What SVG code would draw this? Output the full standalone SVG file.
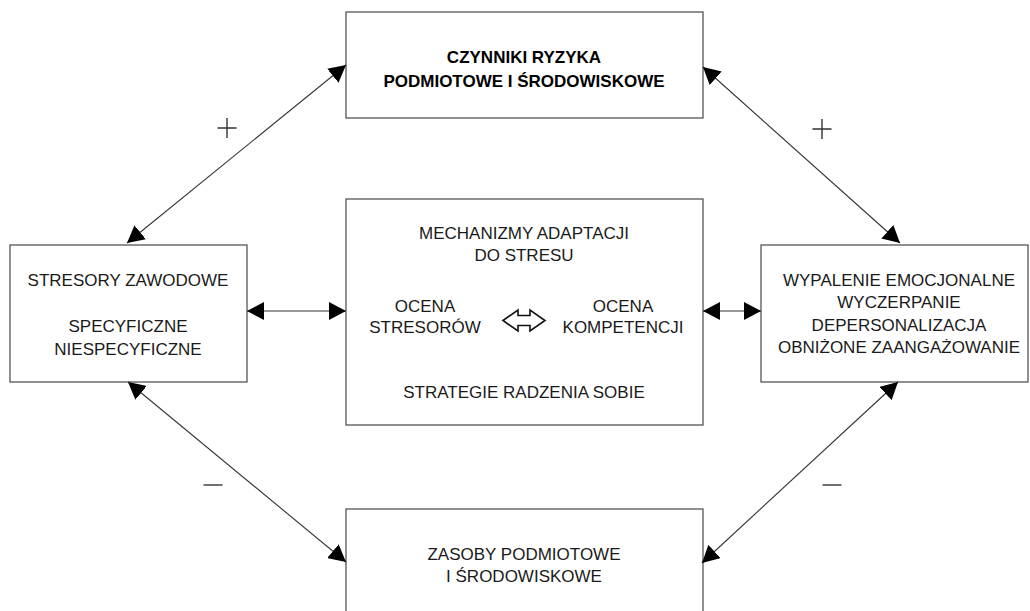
<svg xmlns="http://www.w3.org/2000/svg" width="1030" height="611" viewBox="0 0 1030 611">
  <style>
    .box { fill: #ffffff; stroke: #555555; stroke-width: 1.3; }
    .t { font-family: "Liberation Sans", Arial, sans-serif; font-size: 17px; fill: #1a1a1a; text-anchor: middle; }
    .b { font-weight: bold; fill: #000000; }
    .conn { stroke: #333333; stroke-width: 1.1; fill: none; marker-start: url(#ah); marker-end: url(#ah); }
    .sign { stroke: #333333; stroke-width: 1.4; fill: none; }
  </style>
  <defs>
    <marker id="ah" viewBox="0 0 17 18" refX="17" refY="9" markerWidth="17" markerHeight="18" markerUnits="userSpaceOnUse" orient="auto-start-reverse">
      <path d="M0,0 L17,9 L0,18 z" fill="#000000"/>
    </marker>
  </defs>
  <rect width="1030" height="611" fill="#ffffff"/>

  <g id="node-czynniki">
    <rect class="box" x="346" y="12" width="357" height="106"/>
    <text class="t b" x="524" y="63">CZYNNIKI RYZYKA</text>
    <text class="t b" x="524" y="87">PODMIOTOWE I ŚRODOWISKOWE</text>
  </g>

  <g id="node-stresory">
    <rect class="box" x="10" y="245" width="237" height="137"/>
    <text class="t" x="128" y="286">STRESORY ZAWODOWE</text>
    <text class="t" x="128" y="332">SPECYFICZNE</text>
    <text class="t" x="128" y="355">NIESPECYFICZNE</text>
  </g>

  <g id="node-mechanizmy">
    <rect class="box" x="346" y="199" width="357" height="226"/>
    <text class="t" x="524" y="239">MECHANIZMY ADAPTACJI</text>
    <text class="t" x="524" y="261">DO STRESU</text>
    <text class="t" x="425" y="312">OCENA</text>
    <text class="t" x="425" y="333">STRESORÓW</text>
    <text class="t" x="623" y="312">OCENA</text>
    <text class="t" x="623" y="333">KOMPETENCJI</text>
    <path d="M503,320.5 L518,310 L518,315.5 L530,315.5 L530,310 L545,320.5 L530,331 L530,325.5 L518,325.5 L518,331 Z" fill="#ffffff" stroke="#111111" stroke-width="1.6" stroke-linejoin="miter"/>
    <text class="t" x="524" y="398">STRATEGIE RADZENIA SOBIE</text>
  </g>

  <g id="node-wypalenie">
    <rect class="box" x="761" y="245" width="267" height="137"/>
    <text class="t" x="899" y="286">WYPALENIE EMOCJONALNE</text>
    <text class="t" x="899" y="308">WYCZERPANIE</text>
    <text class="t" x="899" y="331">DEPERSONALIZACJA</text>
    <text class="t" x="899" y="353">OBNIŻONE ZAANGAŻOWANIE</text>
  </g>

  <g id="node-zasoby">
    <rect class="box" x="346" y="509" width="357" height="120"/>
    <text class="t" x="524" y="560">ZASOBY PODMIOTOWE</text>
    <text class="t" x="524" y="582">I ŚRODOWISKOWE</text>
  </g>

  <g id="connectors">
    <line class="conn" x1="247" y1="311" x2="346" y2="311"/>
    <line class="conn" x1="703" y1="311" x2="761" y2="311"/>
    <line class="conn" x1="127" y1="243" x2="346" y2="65"/>
    <line class="conn" x1="703" y1="67" x2="900" y2="243"/>
    <line class="conn" x1="128" y1="382" x2="346" y2="562"/>
    <line class="conn" x1="898" y1="382" x2="702" y2="563"/>
  </g>

  <g id="signs">
    <path class="sign" d="M217.5,128 H236.5 M227,118 V138"/>
    <path class="sign" d="M812.5,129 H831.5 M822,119 V139"/>
    <path class="sign" d="M203.5,485 H222.5" stroke="#666666"/>
    <path class="sign" d="M822.5,485 H841.5" stroke="#666666"/>
  </g>
</svg>
